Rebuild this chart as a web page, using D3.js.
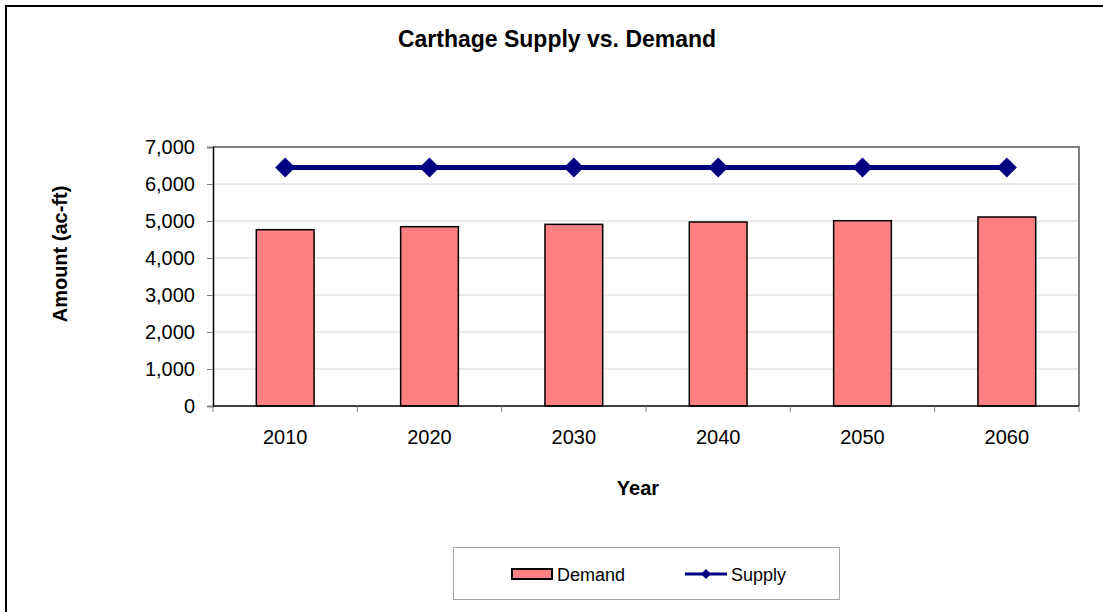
<!DOCTYPE html>
<html><head><meta charset="utf-8">
<script src="https://cdn.jsdelivr.net/npm/d3@7"></script>
<style>body{margin:0;background:#fff}svg{display:block;font-family:"Liberation Sans",Arial,sans-serif}</style>
</head><body>
<svg id="c" width="1103" height="612"></svg>
<script>
const years = ["2010","2020","2030","2040","2050","2060"];
const demand = [4765, 4846, 4910, 4973, 5008, 5108];
const supply = [6446, 6446, 6446, 6446, 6446, 6446];
const yTicks = [0,1000,2000,3000,4000,5000,6000,7000];

const svg = d3.select("#c");
const L=213, R=1079, T=147, B=406;
// chart area border (extends beyond picture)
svg.append("rect").attr("x",6).attr("y",6).attr("width",1120).attr("height",640)
  .attr("fill","#fff").attr("stroke","#000").attr("stroke-width",2);

const x = d3.scaleBand().domain(years).range([L,R]).paddingInner(0).paddingOuter(0);
const y = d3.scaleLinear().domain([0,7000]).range([B,T]);

// gridlines
svg.append("g").selectAll("line").data(yTicks.filter(d=>d>0)).join("line")
  .attr("x1",L).attr("x2",R).attr("y1",d=>y(d)).attr("y2",d=>y(d))
  .attr("stroke","#d4d4d4").attr("stroke-width",1);
// plot border top/right
svg.append("path").attr("d",`M${L},${T}H${R}V${B}`).attr("fill","none").attr("stroke","#808080").attr("stroke-width",2);

// bars
const bw = x.bandwidth()*0.4;
svg.append("g").selectAll("rect").data(demand).join("rect")
  .attr("x",(d,i)=>x(years[i])+x.bandwidth()/2-bw/2)
  .attr("y",d=>y(d)).attr("width",bw).attr("height",d=>B-y(d))
  .attr("fill","#FF8080").attr("stroke","#000").attr("stroke-width",1.5);

// axes
const yAxis = svg.append("g").attr("transform",`translate(${L},0)`)
  .call(d3.axisLeft(y).tickValues(yTicks).tickSize(6).tickPadding(12).tickFormat(d3.format(",")));
yAxis.select(".domain").attr("stroke","#000").attr("stroke-width",1.5);
yAxis.selectAll(".tick line").attr("stroke","#808080");
yAxis.selectAll("text").attr("font-size",20).attr("fill","#000").attr("font-family","Liberation Sans, Arial, sans-serif");

const xb = d3.scaleLinear().domain([0,6]).range([L,R]);
const xAxis = svg.append("g").attr("transform",`translate(0,${B})`);
xAxis.append("line").attr("x1",L).attr("x2",R).attr("stroke","#000").attr("stroke-width",1.5);
xAxis.selectAll("line.t").data(d3.range(7)).join("line").attr("class","t")
  .attr("x1",d=>xb(d)).attr("x2",d=>xb(d)).attr("y1",0).attr("y2",6).attr("stroke","#808080");
xAxis.selectAll("text").data(years).join("text")
  .attr("x",d=>x(d)+x.bandwidth()/2).attr("y",38).attr("text-anchor","middle")
  .attr("font-size",20).attr("fill","#000").text(d=>d);

// supply line
const cx = (d,i)=>x(years[i])+x.bandwidth()/2;
svg.append("path").datum(supply)
  .attr("d",d3.line().x(cx).y(d=>y(d)))
  .attr("fill","none").attr("stroke","#000080").attr("stroke-width",5);
const diamond = d3.symbol().type(d3.symbolDiamond2).size(200);
svg.append("g").selectAll("path").data(supply).join("path")
  .attr("transform",(d,i)=>`translate(${cx(d,i)},${y(d)}) rotate(45)`)
  .attr("d",d3.symbol().type(d3.symbolSquare).size(200)).attr("fill","#000080");

// titles
svg.append("text").attr("x",557).attr("y",47).attr("text-anchor","middle")
  .attr("font-size",23).attr("font-weight","bold").text("Carthage Supply vs. Demand");
svg.append("text").attr("transform","translate(67,254) rotate(-90)").attr("text-anchor","middle")
  .attr("font-size",20).attr("font-weight","bold").text("Amount (ac-ft)");
svg.append("text").attr("x",638).attr("y",495).attr("text-anchor","middle")
  .attr("font-size",20).attr("font-weight","bold").text("Year");

// legend
const lg = svg.append("g");
lg.append("rect").attr("x",453.5).attr("y",547.5).attr("width",386).attr("height",52)
  .attr("fill","#fff").attr("stroke","#a6a6a6").attr("stroke-width",1);
lg.append("rect").attr("x",512).attr("y",569).attr("width",40).attr("height",10)
  .attr("fill","#FF8080").attr("stroke","#000").attr("stroke-width",2);
lg.append("text").attr("x",557).attr("y",581).attr("font-size",18).text("Demand");
lg.append("line").attr("x1",685).attr("x2",727).attr("y1",574).attr("y2",574)
  .attr("stroke","#000080").attr("stroke-width",3);
lg.append("path").attr("transform","translate(706,574) rotate(45)")
  .attr("d",d3.symbol().type(d3.symbolSquare).size(50)).attr("fill","#000080");
lg.append("text").attr("x",731).attr("y",581).attr("font-size",18).text("Supply");
</script>
</body></html>
